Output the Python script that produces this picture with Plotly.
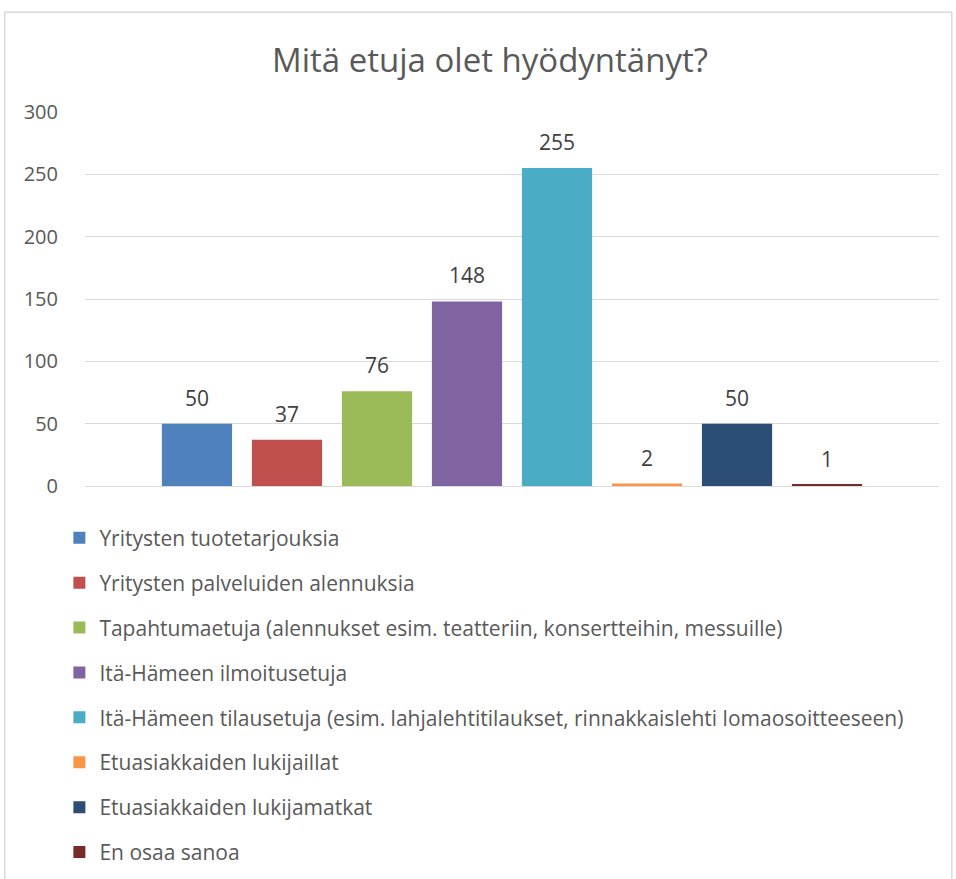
import plotly.graph_objects as go

TITLE = "Mitä etuja olet hyödyntänyt?"
SERIES = [
    "Yritysten tuotetarjouksia",
    "Yritysten palveluiden alennuksia",
    "Tapahtumaetuja (alennukset esim. teatteriin, konsertteihin, messuille)",
    "Itä-Hämeen ilmoitusetuja",
    "Itä-Hämeen tilausetuja (esim. lahjalehtitilaukset, rinnakkaislehti lomaosoitteeseen)",
    "Etuasiakkaiden lukijaillat",
    "Etuasiakkaiden lukijamatkat",
    "En osaa sanoa",
]
VALUES = [50, 37, 76, 148, 255, 2, 50, 1]
COLORS = ["#4F81BD", "#C0504D", "#9BBB59", "#8064A2",
          "#4BACC6", "#F79646", "#2C4D75", "#772C2A"]
Y_TICKS = [0, 50, 100, 150, 200, 250, 300]

FONT = "'Open Sans', Lato, sans-serif"
GRID = "#D9D9D9"
W, H = 956, 879


def build_chart():
    fig = go.Figure()
    for i, (name, val, col) in enumerate(zip(SERIES, VALUES, COLORS)):
        fig.add_trace(go.Bar(
            x=[name], y=[val], name=name, width=0.78,
            marker={"color": col, "line": {"width": 0}},
            legendgroup=f"g{i}",
        ))
        fig.add_annotation(
            x=name, y=val, text=str(val), showarrow=False,
            yshift=26, font={"size": 21, "color": "#404040", "family": FONT},
        )

    # chart frame like the Excel chart area border
    for x0, y0, x1, y1 in [(-0.094, -2, -0.094, 1.267), (-0.094, 1.267, 1.015, 1.267),
                           (1.015, 1.267, 1.015, -2)]:
        fig.add_shape(type="line", xref="paper", yref="paper", x0=x0, y0=y0, x1=x1, y1=y1,
                      line={"color": GRID, "width": 1.5})

    fig.update_layout(
        width=W, height=H,
        margin={"l": 85, "r": 17, "t": 112, "b": 393, "autoexpand": False},
        paper_bgcolor="white", plot_bgcolor="white",
        font={"family": FONT, "color": "#595959", "size": 20},
        title={"text": TITLE, "x": 490 / W, "xanchor": "center",
               "y": 1 - 60 / H, "yanchor": "middle",
               "font": {"size": 33, "color": "#595959"}},
        barmode="overlay",
        showlegend=True,
        legend={"x": -0.03, "xanchor": "left", "y": -0.0845, "yanchor": "top",
                "orientation": "v", "traceorder": "grouped", "tracegroupgap": 14.6,
                "font": {"size": 21, "color": "#595959"}},
        xaxis={"showticklabels": False, "showgrid": False, "zeroline": False,
               "range": [-1.244, 8.244], "fixedrange": True},
        yaxis={"range": [0, 300], "tickvals": Y_TICKS, "showgrid": True,
               "gridcolor": GRID, "gridwidth": 1.3, "zeroline": True,
               "zerolinecolor": GRID, "zerolinewidth": 1.3,
               "ticks": "outside", "ticklen": 22, "tickcolor": "rgba(0,0,0,0)",
               "tickfont": {"size": 20, "color": "#595959"}},
    )
    return fig


def main():
    fig = build_chart()
    # drop the default 8px body margin so the chart fills the window like the original
    fig.write_html("out.html", config={"displayModeBar": False},
                   post_script="document.body.style.margin = '0';")


if __name__ == "__main__":
    main()
